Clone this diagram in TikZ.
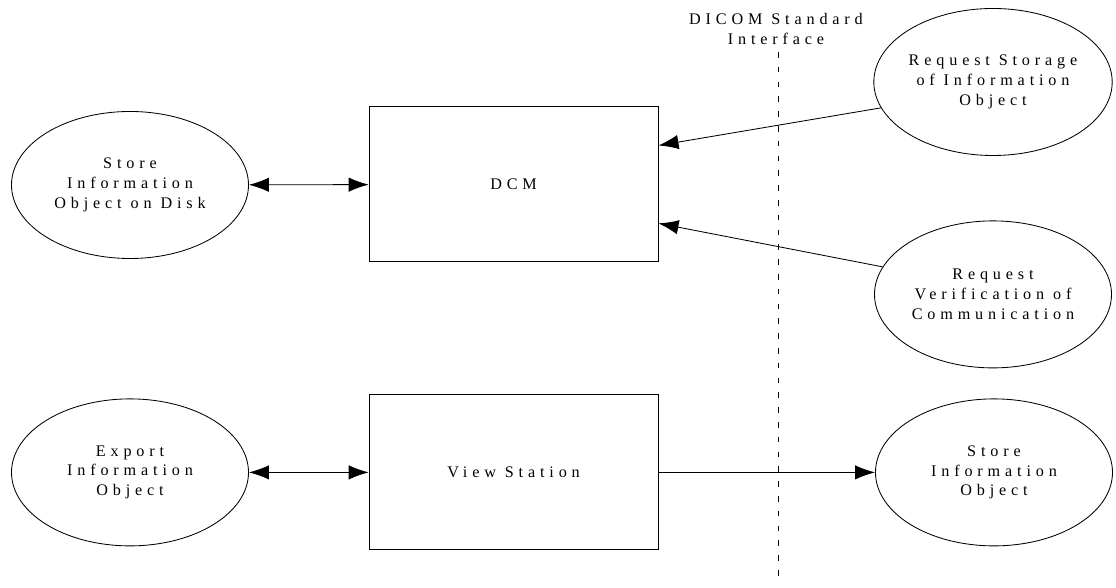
\documentclass[tikz,border=0pt]{standalone}
\usepackage{fontspec}
\setmainfont{Liberation Serif}
\newfontfamily\spacedfont[LetterSpace=30]{Liberation Serif}
\usepackage{tikz}
\usetikzlibrary{shapes.geometric, arrows.meta, calc}
\tikzset{next/.style={-{Latex[length=5mm, width=3.6mm]}}}
\tikzset{both/.style={{Latex[length=5mm, width=3.6mm]}-{Latex[length=5mm, width=3.6mm]}}}
\tikzset{usecase/.style={ellipse, draw, inner sep=0pt, minimum width=5.925cm, minimum height=3.675cm, align=center}}
\tikzset{unit/.style={rectangle, draw, minimum width=7.225cm, minimum height=3.875cm}}
\newcommand{\labelfont}{\spacedfont\fontsize{11.5}{14.2}\selectfont}

\begin{document}
\begin{tikzpicture}[line width=.6pt, font=\labelfont]
  \useasboundingbox (0,0) rectangle (27.9,14.7);

  % --- units ---
  \node[unit] (dcm) at (12.84,10.09) {DCM};
  \node[unit] (view) at (12.84,2.89) {View Station};

  % --- use cases ---
  \node[usecase] (disk) at (3.25,10.075) {Store\\Information\\Object on Disk};
  \node[usecase] (export) at (3.25,2.89) {Export\\Information\\Object};
  \node[usecase] (reqstore) at (24.825,12.65) {Request Storage\\of Information\\Object};
  \node[usecase] (reqverif) at (24.825,7.34) {Request\\Verification of\\Communication};
  \node[usecase] (storeobj) at (24.85,2.89) {Store\\Information\\Object};

  % --- interface line ---
  \node[align=center] (iface) at (19.4,13.975) {DICOM Standard\\Interface};
  \coordinate (ifacetop) at (19.45,13.4);
  \coordinate (ifacebot) at (19.45,0.1);
  \draw[dash pattern=on .14cm off .23cm] (ifacetop) -- (ifacebot);

  % --- flows ---
  \draw[both] (disk) -- (dcm);
  \draw[next] (reqstore.193) -- ($(dcm.north east)!.25!(dcm.south east)$);
  \draw[next] (reqverif.166) -- ($(dcm.north east)!.75!(dcm.south east)$);
  \draw[both] (export) -- (view);
  \draw[next] (view) -- (storeobj);
\end{tikzpicture}
\end{document}
